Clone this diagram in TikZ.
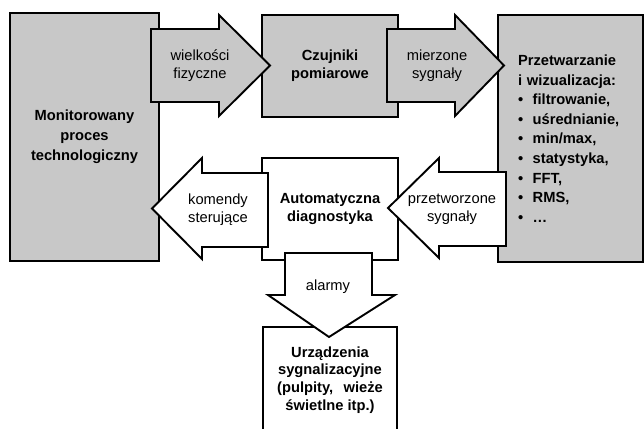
\documentclass[tikz,border=0pt]{standalone}
\usepackage{fontspec}
\setmainfont{Liberation Sans}
\definecolor{boxgray}{RGB}{200,200,200}
\tikzset{
  box/.style={draw, line width=1.9pt, fill=boxgray, align=center, inner sep=0pt,
    font=\fontsize{14.7}{17.7}\selectfont\bfseries},
  whitebox/.style={box, fill=white},
  blockarrow/.style={draw, line width=1.9pt, line join=miter, fill=boxgray},
  whitearrow/.style={blockarrow, fill=white},
  lbl/.style={align=center, inner sep=0pt, font=\fontsize{14.7}{17.7}\selectfont}
}
\begin{document}
\begin{tikzpicture}[x=1pt, y=-1pt]
  \useasboundingbox (0,0) rectangle (644,428);
  \clip (0,0) rectangle (644,428);
  % Boxes
  \node[box, minimum width=149pt, minimum height=248pt,
    font=\fontsize{14.7}{20}\selectfont\bfseries] (mon) at (84.5,137)
    {Monitorowany\\proces\\technologiczny};
  \node[box, minimum width=136pt, minimum height=102pt] (czu) at (330,66)
    {Czujniki\\pomiarowe};
  \node[box, minimum width=145pt, minimum height=247pt, text width=105pt,
    inner xsep=20pt, align=left,
    font=\fontsize{14.7}{19.6}\selectfont\bfseries] (prz) at (570.5,138.5)
    {Przetwarzanie\\i wizualizacja:\\
     \textbullet\hspace{0.65em}filtrowanie,\\
     \textbullet\hspace{0.65em}uśrednianie,\\
     \textbullet\hspace{0.65em}min/max,\\
     \textbullet\hspace{0.65em}statystyka,\\
     \textbullet\hspace{0.65em}FFT,\\
     \textbullet\hspace{0.65em}RMS,\\
     \textbullet\hspace{0.65em}…};
  \node[whitebox, minimum width=136pt, minimum height=102pt] (diag) at (330,209)
    {Automatyczna\\diagnostyka};
  \node[whitebox, minimum width=134pt, minimum height=106pt] (urz) at (330,380)
    {Urządzenia\\sygnalizacyjne\\(pulpity,\hspace{0.7em}wieże\\świetlne itp.)};
  % Block arrows
  \draw[blockarrow] (151,29) -- (219,29) -- (219,15) -- (270,65.5) -- (219,116)
    -- (219,102) -- (151,102) -- cycle;
  \draw[blockarrow] (387,29) -- (455,29) -- (455,15) -- (504,65.5) -- (455,116)
    -- (455,102) -- (387,102) -- cycle;
  \draw[whitearrow] (268,173) -- (202,173) -- (202,158) -- (152,208.5) -- (202,259)
    -- (202,247) -- (268,247) -- cycle;
  \draw[whitearrow] (506,172) -- (439,172) -- (439,158) -- (388,208) -- (439,258)
    -- (439,246) -- (506,246) -- cycle;
  \draw[whitearrow] (285,253) -- (372,253) -- (372,295) -- (395,295) -- (329,337)
    -- (268,295) -- (285,295) -- cycle;
  % Arrow labels
  \node[lbl] (wf) at (200,65.5) {wielkości\\fizyczne};
  \node[lbl] (ms) at (437,65.5) {mierzone\\sygnały};
  \node[lbl] (ks) at (218,210) {komendy\\sterujące};
  \node[lbl] (ps) at (452,209) {przetworzone\\sygnały};
  \node[lbl] (al) at (328,287) {alarmy};
\end{tikzpicture}
\end{document}
